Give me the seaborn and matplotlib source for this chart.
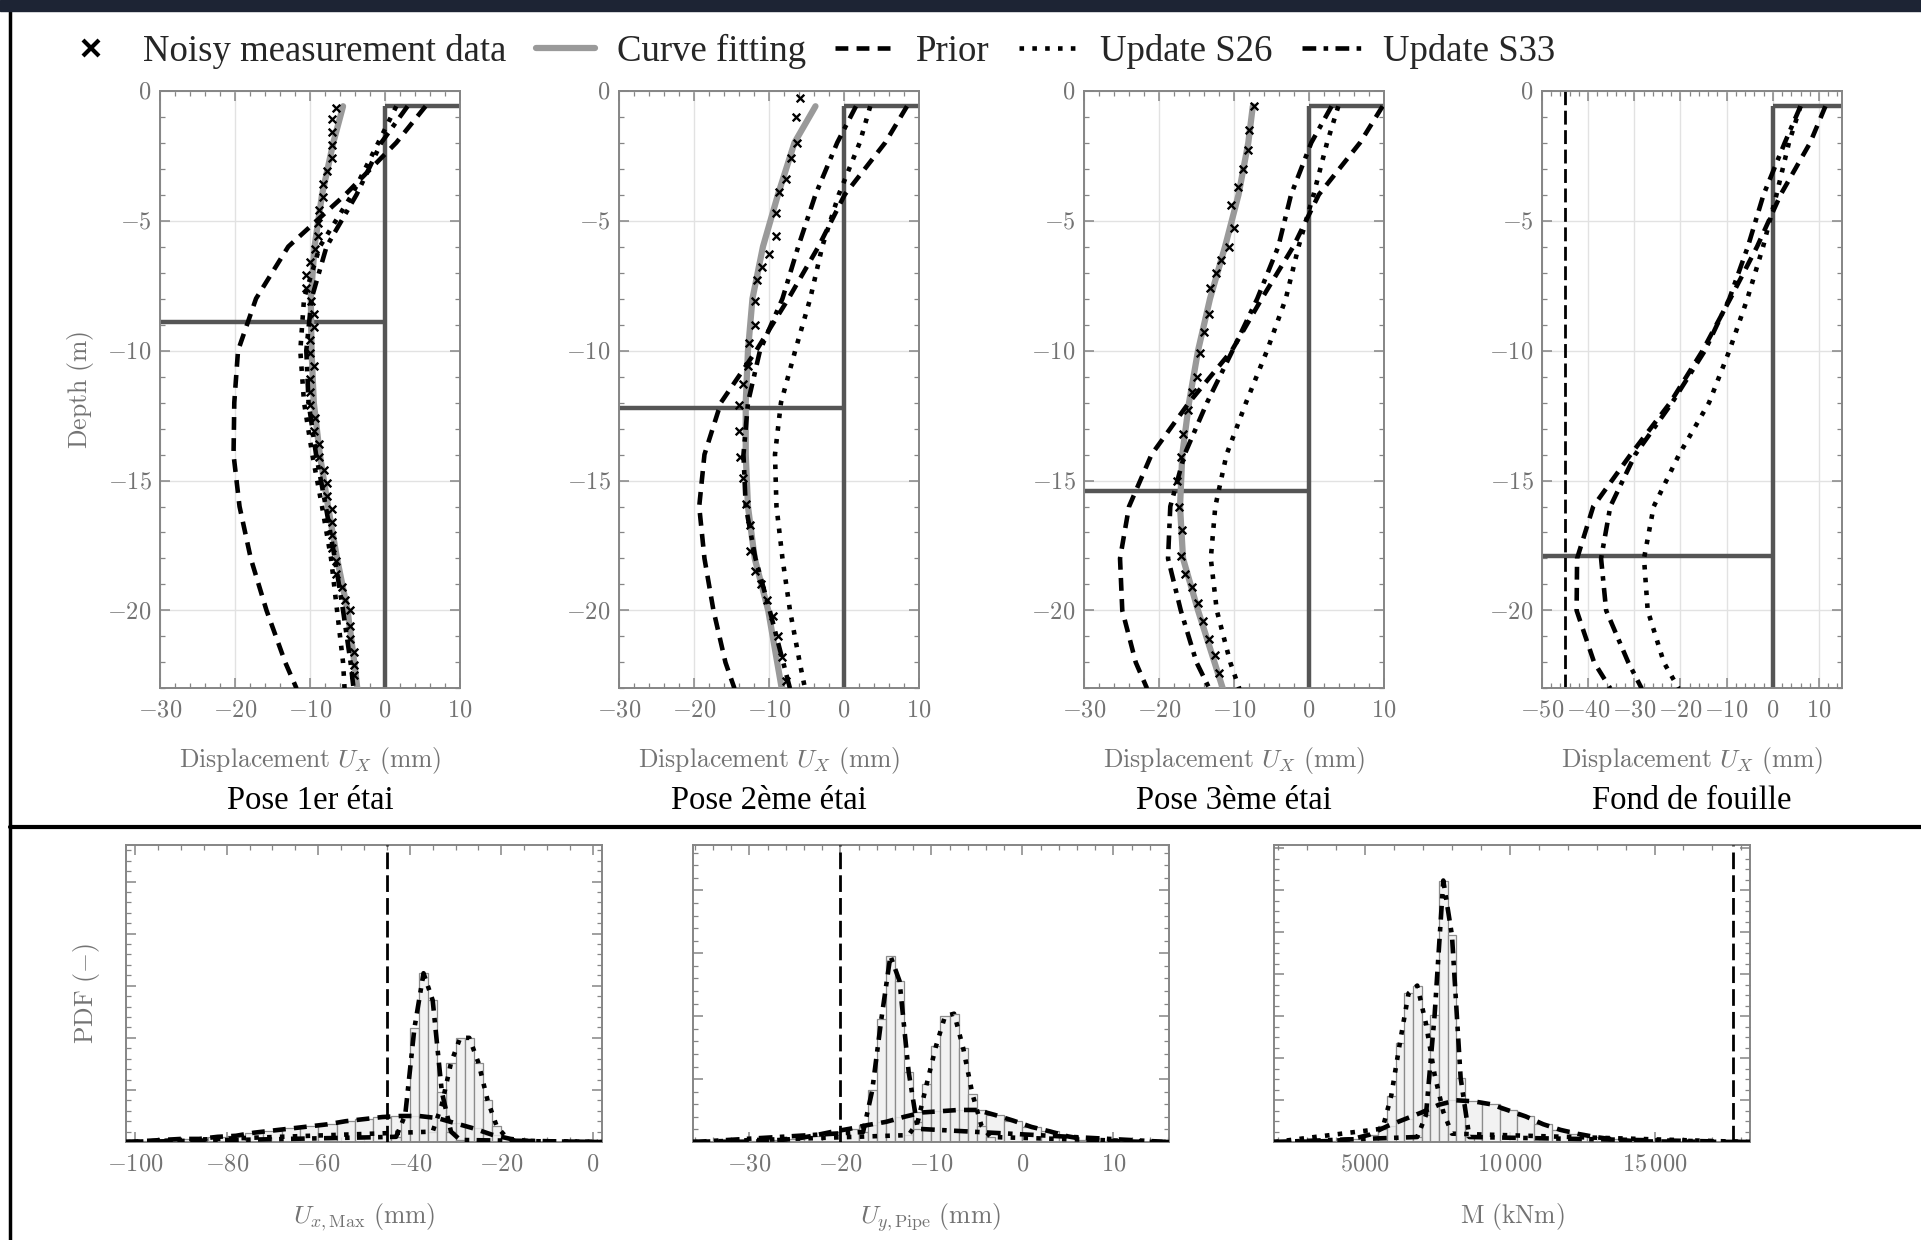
import numpy as np
import pandas as pd
import matplotlib
matplotlib.use("Agg")
import matplotlib.pyplot as plt
from matplotlib.lines import Line2D
from matplotlib.patches import Rectangle
from matplotlib.ticker import MultipleLocator, FuncFormatter
import seaborn as sns

# ---------------- data : wall displacement profiles ----------------
stage_titles = ["Pose 1er étai", "Pose 2ème étai", "Pose 3ème étai", "Fond de fouille"]
excav_depth = [-8.9, -12.2, -15.4, -17.9]
beam_depth = -0.6
threshold_ux = -45

curve_depth = [-0.6, -2, -4, -6, -8, -10, -12, -14, -16, -18, -20, -22, -23]

fit_1 = [-5.6, -6.9, -8.4, -9.4, -9.9, -9.8, -9.5, -8.7, -7.6, -6.4, -5.0, -4.1, -3.7]
prior_1 = [5.4, 1.5, -5.3, -12.9, -17.2, -19.6, -20.1, -20.2, -19.4, -17.9, -15.8, -13.3, -11.8]
s26_1 = [1.5, -0.9, -4.4, -8.7, -10.8, -11.3, -10.8, -9.7, -8.4, -7.2, -6.4, -5.6, -5.4]
s33_1 = [3.0, -0.5, -3.8, -7.8, -9.8, -10.5, -10.2, -9.2, -7.9, -6.7, -5.6, -4.6, -4.2]

fit_2 = [-3.8, -6.6, -8.8, -10.8, -12.2, -12.8, -13.1, -13.1, -12.8, -11.9, -10.1, -8.9, -8.3]
prior_2 = [8.4, 5.5, 0.1, -3.4, -7.4, -11.7, -16.4, -18.6, -19.3, -18.6, -17.4, -15.8, -14.6]
s26_2 = [3.5, 2.1, -0.7, -2.9, -4.5, -6.5, -8.4, -9.2, -9.0, -8.2, -7.2, -5.9, -5.2]
s33_2 = [1.6, -0.9, -3.8, -6.1, -8.2, -11.2, -12.8, -13.4, -13.1, -11.8, -9.9, -8.1, -7.2]

fit_3 = [-7.5, -8.1, -9.4, -11.2, -13.2, -14.8, -16.0, -16.9, -17.2, -16.8, -14.8, -12.6, -11.5]
prior_3 = [9.8, 6.8, 1.3, -2.1, -6.3, -10.3, -16.0, -21.0, -24.0, -25.2, -24.9, -23.1, -21.6]
s26_3 = [3.9, 2.4, 0.6, -1.4, -3.1, -5.6, -8.4, -11.0, -12.5, -13.1, -12.3, -10.5, -9.3]
s33_3 = [3.0, 0.3, -2.4, -4.1, -6.9, -10.2, -13.6, -16.6, -18.5, -18.8, -17.1, -15.0, -13.3]

prior_4 = [11.4, 8.1, 1.7, -3.4, -9.2, -15.2, -22.2, -30.8, -38.9, -42.4, -42.5, -38.7, -35.2]
s26_4 = [6.0, 3.5, 0.8, -2.1, -5.5, -9.4, -13.8, -20.3, -25.8, -27.9, -27.1, -23.6, -20.4]
s33_4 = [6.0, 2.6, -2.0, -5.4, -9.4, -14.7, -21.8, -29.8, -35.2, -37.2, -36.1, -31.3, -28.4]

# noisy inclinometer readings
meas_d1 = [-0.65, -1.1, -1.6, -2.1, -2.6, -3.1, -3.6, -4.1, -4.6, -5.1, -5.6, -6.1, -6.6, -7.1, -7.6,
           -8.1, -8.6, -9.1, -9.6, -10.1, -10.6, -11.1, -11.6, -12.1, -12.6, -13.1, -13.6, -14.1,
           -14.6, -15.1, -15.6, -16.1, -16.6, -17.1, -17.6, -18.1, -18.6, -19.1, -19.6, -20.0,
           -20.6, -21.1, -21.6, -22.1, -22.5]
meas_x1 = [-6.5, -7.1, -7.1, -7.1, -7.1, -7.8, -8.3, -8.3, -8.8, -8.9, -8.9, -9.4, -10.0, -10.6, -10.6,
           -9.9, -9.5, -9.5, -10.0, -10.0, -9.5, -10.0, -10.0, -10.0, -9.4, -9.5, -8.8, -8.8,
           -8.2, -7.7, -7.7, -7.1, -7.1, -7.1, -7.1, -6.5, -6.6, -5.8, -5.3, -4.7,
           -4.7, -4.7, -4.2, -4.2, -4.2]
meas_d2 = [-0.3, -1.0, -2.0, -2.6, -3.4, -3.9, -4.7, -5.6, -6.3, -6.8, -7.3, -8.1, -9.0, -9.7, -10.6,
           -11.3, -12.1, -13.1, -14.1, -14.9, -15.9, -16.7, -17.7, -18.5, -19.0, -19.6, -20.2,
           -21.0, -21.8, -22.7]
meas_x2 = [-5.8, -6.4, -6.3, -7.1, -7.7, -8.6, -9.0, -9.1, -10.0, -10.9, -11.6, -11.8, -11.8, -12.6,
           -12.8, -13.5, -14.0, -14.0, -13.8, -13.4, -13.0, -12.5, -12.5, -11.8, -11.1, -10.2,
           -9.4, -8.8, -8.2, -7.7]
meas_d3 = [-0.6, -1.5, -2.3, -3.0, -3.7, -4.4, -5.3, -6.0, -6.5, -7.0, -7.6, -8.6, -9.3, -10.1, -11.0,
           -11.6, -12.3, -13.2, -14.1, -15.0, -16.0, -16.9, -17.9, -18.6, -19.1, -19.7, -20.4,
           -21.1, -21.7, -22.4]
meas_x3 = [-7.4, -8.0, -8.1, -8.8, -9.5, -10.4, -10.0, -10.7, -11.7, -12.4, -13.2, -13.3, -14.0, -14.6,
           -14.9, -15.6, -16.2, -16.8, -17.1, -17.6, -17.4, -17.0, -17.1, -16.5, -15.6, -14.8,
           -14.1, -13.4, -12.6, -12.0]

# ---------------- data : histograms (bin start, bin width, pdf heights) ----------------
ux_prior_start, ux_prior_w = -100, 4
ux_prior = [0.001, 0.002, 0.003, 0.003, 0.005, 0.006, 0.009, 0.011, 0.013, 0.015, 0.017, 0.020,
            0.022, 0.024, 0.025, 0.025, 0.023, 0.018, 0.013, 0.007, 0.003, 0.001]
ux_s26_start, ux_s26_w = -36, 2
ux_s26 = [0.010, 0.036, 0.076, 0.100, 0.100, 0.076, 0.040, 0.015, 0.005, 0.001]
ux_s33_start, ux_s33_w = -44, 2
ux_s33 = [0.005, 0.026, 0.109, 0.162, 0.136, 0.048, 0.010, 0.002]

uy_prior_start, uy_prior_w = -36, 2
uy_prior = [0.0, 0.0005, 0.0005, 0.001, 0.003, 0.005, 0.010, 0.016, 0.021, 0.027, 0.032, 0.040,
            0.047, 0.049, 0.051, 0.051, 0.043, 0.034, 0.024, 0.017, 0.009, 0.004, 0.002, 0.001, 0.0005]
uy_s26_start, uy_s26_w = -13, 1
uy_s26 = [0.011, 0.032, 0.093, 0.152, 0.200, 0.204, 0.149, 0.077, 0.026, 0.008]
uy_s33_start, uy_s33_w = -18, 1
uy_s33 = [0.016, 0.082, 0.195, 0.296, 0.256, 0.112, 0.021]
threshold_uy = -20

# bending moment pdf, in 1e-4 per kNm
m_prior_start, m_prior_w = 1850, 600
m_prior = [0.0, 0.016, 0.03, 0.06, 0.14, 0.35, 0.75, 1.08, 1.41, 1.78, 1.99, 1.94, 1.80, 1.51,
           1.22, 0.85, 0.58, 0.39, 0.24, 0.13, 0.06, 0.03]
m_s26_start, m_s26_w = 5450, 300
m_s26 = [0.64, 2.20, 4.73, 7.09, 7.46, 5.65, 3.21, 1.44, 0.40]
m_s33_start, m_s33_w = 6650, 300
m_s33 = [0.24, 1.28, 6.05, 12.47, 9.85, 3.05, 0.24]
threshold_m = 17700

# ---------------- style ----------------
sns.set_style("ticks")
plt.rcParams['font.family'] = ['Liberation Serif', 'DejaVu Serif']
plt.rcParams['mathtext.fontset'] = 'cm'

GRAY_FRAME = '#858585'
GRAY_TXT = '#737373'
WALL = '#555555'
FIT = '#9a9a9a'
LS_PRIOR = (0, (2.8, 1.8))
LS_S26 = (0, (1.0, 1.8))
LS_S33 = (0, (3.0, 1.6, 1.0, 1.6))
LW = 3.3


def cm_fmt(v, pos=None):
    v = int(round(v))
    s = str(abs(v))
    if abs(v) >= 10000:
        s = s[:-3] + r'\,' + s[-3:]
    if v < 0:
        return r'$-%s$' % s
    return r'$%s$' % s


def frame(ax):
    for sp in ax.spines.values():
        sp.set_visible(True)
        sp.set_color(GRAY_FRAME)
        sp.set_linewidth(1.4)
    ax.tick_params(which='both', direction='in', top=True, right=True,
                   color=GRAY_FRAME, labelcolor=GRAY_TXT, labelsize=17.5)
    ax.tick_params(which='major', length=7, width=1.1, pad=9)
    ax.tick_params(which='minor', length=3.5, width=0.9)
    ax.tick_params(axis='y', which='major', pad=6)


fig = plt.figure(figsize=(19.21, 12.40), dpi=100)

# ---------------- top row ----------------
top_left = [0.0833, 0.3222, 0.5643, 0.8027]
xlims_top = [(-30, 10), (-30, 10), (-30, 10), (-50, 15)]
fits = [fit_1, fit_2, fit_3, None]
priors = [prior_1, prior_2, prior_3, prior_4]
s26s = [s26_1, s26_2, s26_3, s26_4]
s33s = [s33_1, s33_2, s33_3, s33_4]
meas = [(meas_x1, meas_d1), (meas_x2, meas_d2), (meas_x3, meas_d3), None]

for i in range(4):
    ax = fig.add_axes([top_left[i], 0.4448, 0.1562, 0.4821])
    x0, x1 = xlims_top[i]
    ax.set_xlim(x0, x1)
    ax.set_ylim(-23, 0)
    ax.set_axisbelow(True)
    ax.grid(True, which='major', color='#e2e2e2', lw=1)

    # retaining wall, capping beam and excavation level
    ax.vlines(0, -23, beam_depth, color=WALL, lw=3.2, zorder=2)
    ax.hlines(beam_depth, 0, x1, color=WALL, lw=3.2, zorder=2)
    ax.hlines(excav_depth[i], x0, 0, color=WALL, lw=3.2, zorder=2)
    if i == 3:
        ax.axvline(threshold_ux, color='k', lw=2, ls=(0, (5, 2)), zorder=2)

    if fits[i] is not None:
        sns.lineplot(x=fits[i], y=curve_depth, sort=False, estimator=None, color=FIT, lw=4.5,
                     ax=ax, zorder=3)
    sns.lineplot(x=priors[i], y=curve_depth, sort=False, estimator=None, color='k', lw=LW,
                 ls=LS_PRIOR, ax=ax, zorder=4)
    sns.lineplot(x=s26s[i], y=curve_depth, sort=False, estimator=None, color='k', lw=LW,
                 ls=LS_S26, ax=ax, zorder=4)
    sns.lineplot(x=s33s[i], y=curve_depth, sort=False, estimator=None, color='k', lw=LW,
                 ls=LS_S33, ax=ax, zorder=4)
    if meas[i] is not None:
        sns.scatterplot(x=meas[i][0], y=meas[i][1], marker='x', color='k', s=30, linewidth=1.7,
                        ax=ax, zorder=5)

    ax.xaxis.set_major_locator(MultipleLocator(10))
    ax.xaxis.set_minor_locator(MultipleLocator(2))
    ax.yaxis.set_major_locator(MultipleLocator(5))
    ax.yaxis.set_minor_locator(MultipleLocator(1))
    ax.xaxis.set_major_formatter(FuncFormatter(cm_fmt))
    ax.yaxis.set_major_formatter(FuncFormatter(cm_fmt))
    frame(ax)

    ax.set_xlabel(r'$\mathrm{Displacement}\ U_X\ \mathrm{(mm)}$', fontsize=18.5, color=GRAY_TXT)
    ax.xaxis.set_label_coords(0.5, -0.095)
    if i == 0:
        ax.set_ylabel(r'$\mathrm{Depth\ (m)}$', fontsize=18.5, color=GRAY_TXT)
        ax.yaxis.set_label_coords(-0.215, 0.5)
    else:
        ax.set_ylabel('')
    ax.text(0.5, -0.188, stage_titles[i], transform=ax.transAxes, ha='center', va='center',
            fontsize=23.5, color='k')

# ---------------- bottom row ----------------
bottom_left = [0.0656, 0.3607, 0.6632]
hists = [
    [(ux_prior_start, ux_prior_w, ux_prior, LS_PRIOR),
     (ux_s26_start, ux_s26_w, ux_s26, LS_S26),
     (ux_s33_start, ux_s33_w, ux_s33, LS_S33)],
    [(uy_prior_start, uy_prior_w, uy_prior, LS_PRIOR),
     (uy_s26_start, uy_s26_w, uy_s26, LS_S26),
     (uy_s33_start, uy_s33_w, uy_s33, LS_S33)],
    [(m_prior_start, m_prior_w, m_prior, LS_PRIOR),
     (m_s26_start, m_s26_w, m_s26, LS_S26),
     (m_s33_start, m_s33_w, m_s33, LS_S33)],
]
xlims_bot = [(-102, 2), (-36.2, 16.1), (1850, 18300)]
ylims_bot = [0.285, 0.472, 14.16]
thresholds = [threshold_ux, threshold_uy, threshold_m]
xlabels_bot = [r'$U_{x,\mathrm{Max}}\ \mathrm{(mm)}$', r'$U_{y,\mathrm{Pipe}}\ \mathrm{(mm)}$',
               r'$\mathrm{M\ (kNm)}$']
xmaj = [20, 10, 5000]
xmin_ = [5, 2, 1000]
ymaj = [0.05, 0.1, 2]
ymin_ = [0.01, 0.02, 0.5]

for j in range(3):
    ax = fig.add_axes([bottom_left[j], 0.0790, 0.2478, 0.2395])
    x0, x1 = xlims_bot[j]
    for start, w, h, ls in hists[j]:
        edges = [start + w * k for k in range(len(h) + 1)]
        df = pd.DataFrame({"value": [e + w / 2 for e in edges[:-1]], "pdf": h})
        sns.histplot(data=df, x="value", weights="pdf", bins=edges, stat='count', ax=ax,
                     color='#efefef', edgecolor='#8c8c8c', linewidth=0.9, alpha=0.8, zorder=2)
    for start, w, h, ls in hists[j]:
        centers = start + w * (np.arange(len(h)) + 0.5)
        cx = np.concatenate([[x0], centers, [x1]])
        cy = np.concatenate([[0], h, [0]])
        sns.lineplot(x=cx, y=cy, sort=False, estimator=None, color='k', lw=LW, ls=ls, ax=ax,
                     zorder=4)
    ax.axvline(thresholds[j], color='k', lw=2, ls=(0, (6, 2.2)), zorder=5)
    ax.set_xlim(x0, x1)
    ax.set_ylim(0, ylims_bot[j])
    ax.xaxis.set_major_locator(MultipleLocator(xmaj[j]))
    ax.xaxis.set_minor_locator(MultipleLocator(xmin_[j]))
    ax.yaxis.set_major_locator(MultipleLocator(ymaj[j]))
    ax.yaxis.set_minor_locator(MultipleLocator(ymin_[j]))
    ax.xaxis.set_major_formatter(FuncFormatter(cm_fmt))
    frame(ax)
    ax.tick_params(axis='y', labelleft=False)
    ax.set_xlabel(xlabels_bot[j], fontsize=18.5, color=GRAY_TXT)
    ax.xaxis.set_label_coords(0.5, -0.2)
    if j == 0:
        ax.set_ylabel(r'$\mathrm{PDF}\ (-)$', fontsize=18.5, color=GRAY_TXT)
        ax.yaxis.set_label_coords(-0.05, 0.5)
    else:
        ax.set_ylabel('')

# ---------------- legend ----------------
handles = [
    Line2D([], [], marker='x', color='k', ls='none', markersize=11, mew=3),
    Line2D([], [], color=FIT, lw=4.5),
    Line2D([], [], color='k', lw=LW, ls=LS_PRIOR),
    Line2D([], [], color='k', lw=LW, ls=LS_S26),
    Line2D([], [], color='k', lw=LW, ls=LS_S33),
]
labels = ["Noisy measurement data", "Curve fitting", "Prior", "Update S26", "Update S33"]
fig.legend(handles, labels, loc='center', bbox_to_anchor=(0.421, 0.9585), ncol=5,
           frameon=False, fontsize=26.5, handlelength=1.6, handletextpad=0.6, columnspacing=0.8)

# ---------------- page decorations ----------------
fig.add_artist(Rectangle((0, 1 - 11 / 1240), 1, 11 / 1240, transform=fig.transFigure,
                         color='#1d2434', zorder=10))
fig.add_artist(Line2D([10 / 1921, 10 / 1921], [0, 1 - 11 / 1240], transform=fig.transFigure,
                      color='k', lw=2.5))
fig.add_artist(Line2D([10 / 1921, 1], [1 - 827 / 1240, 1 - 827 / 1240], transform=fig.transFigure,
                      color='k', lw=3))

fig.savefig("out.png", dpi=100)
